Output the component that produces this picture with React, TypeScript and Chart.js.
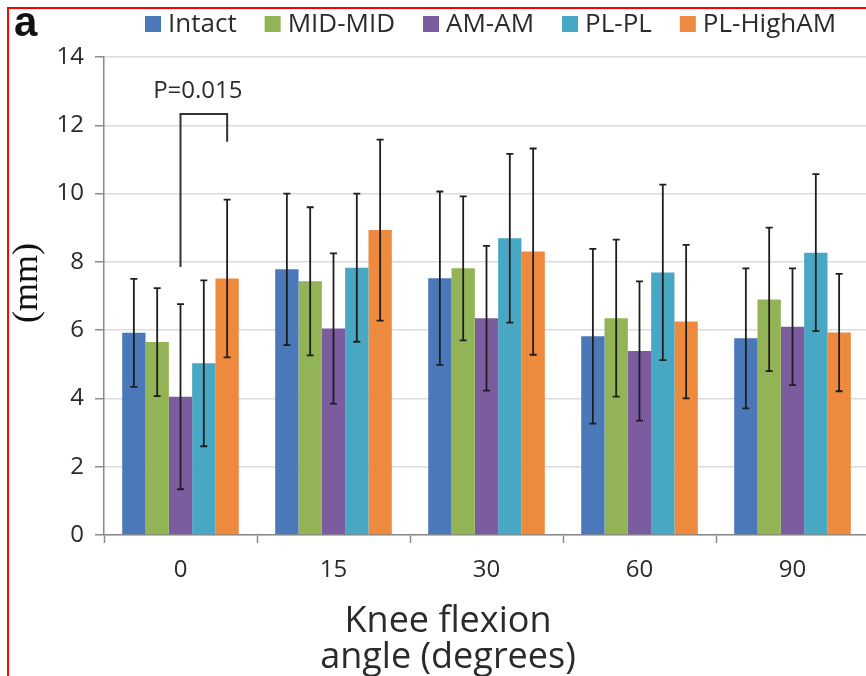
import React, { useEffect, useRef } from "react";
import { Chart, registerables } from "chart.js";

Chart.register(...registerables);

const categories = ["0", "15", "30", "60", "90"];
const seriesNames = ["Intact", "MID-MID", "AM-AM", "PL-PL", "PL-HighAM"];
const seriesColors = ["#4A78B8", "#92B456", "#7B5C9E", "#48A7C2", "#EE8A3D"];

const intactMean = [5.92, 7.78, 7.52, 5.82, 5.76];
const intactSD = [1.58, 2.22, 2.54, 2.56, 2.05];
const midMidMean = [5.65, 7.43, 7.81, 6.35, 6.9];
const midMidSD = [1.58, 2.17, 2.11, 2.3, 2.1];
const amAmMean = [4.05, 6.05, 6.35, 5.39, 6.1];
const amAmSD = [2.71, 2.2, 2.12, 2.04, 1.71];
const plPlMean = [5.03, 7.83, 8.69, 7.69, 8.27];
const plPlSD = [2.43, 2.17, 2.47, 2.57, 2.3];
const plHighMean = [7.51, 8.93, 8.3, 6.25, 5.93];
const plHighSD = [2.31, 2.65, 3.02, 2.25, 1.72];

const yTicks = [0, 2, 4, 6, 8, 10, 12, 14];
const yMin = 0;
const yMax = 14;

// significance bracket (data units)
const bracketLabel = "P=0.015";
const bracketLeftBottom = 7.85;
const bracketTop = 12.33;
const bracketRightBottom = 11.52;
const bracketLabelY = 13.0;

const panelLetter = "a";
const yTitle = "(mm)";
const xTitleLines = ["Knee flexion", "angle (degrees)"];

const means = [intactMean, midMidMean, amAmMean, plPlMean, plHighMean];
const sds = [intactSD, midMidSD, amAmSD, plPlSD, plHighSD];

const TEXT = "#2b2b2b";
const AXIS = "#8a8a8a";

const decorPlugin = {
  id: "decor",
  beforeDraw(chart: any) {
    const ctx = chart.ctx;
    ctx.save();
    ctx.fillStyle = "#ffffff";
    ctx.fillRect(0, 0, chart.width, chart.height);
    ctx.restore();
  },
  afterDatasetsDraw(chart: any) {
    const ctx = chart.ctx;
    const yScale = chart.scales.y;
    ctx.save();
    // error bars
    ctx.strokeStyle = "#1e1e1e";
    ctx.lineWidth = 1.8;
    chart.data.datasets.forEach((ds: any, di: number) => {
      const meta = chart.getDatasetMeta(di);
      meta.data.forEach((bar: any, i: number) => {
        const m = means[di][i];
        const s = sds[di][i];
        const yT = yScale.getPixelForValue(m + s);
        const yB = yScale.getPixelForValue(m - s);
        const x = bar.x;
        ctx.beginPath();
        ctx.moveTo(x, yT);
        ctx.lineTo(x, yB);
        ctx.moveTo(x - 3.5, yT);
        ctx.lineTo(x + 3.5, yT);
        ctx.moveTo(x - 3.5, yB);
        ctx.lineTo(x + 3.5, yB);
        ctx.stroke();
      });
    });
    // bracket
    const leftBar = chart.getDatasetMeta(2).data[0];
    const rightBar = chart.getDatasetMeta(4).data[0];
    ctx.strokeStyle = "#333";
    ctx.lineWidth = 2;
    ctx.beginPath();
    ctx.moveTo(leftBar.x, yScale.getPixelForValue(bracketLeftBottom));
    ctx.lineTo(leftBar.x, yScale.getPixelForValue(bracketTop));
    ctx.lineTo(rightBar.x, yScale.getPixelForValue(bracketTop));
    ctx.lineTo(rightBar.x, yScale.getPixelForValue(bracketRightBottom));
    ctx.stroke();
    ctx.fillStyle = TEXT;
    ctx.font = '24px "Open Sans"';
    ctx.textAlign = "center";
    ctx.textBaseline = "middle";
    ctx.fillText(bracketLabel, (leftBar.x + rightBar.x) / 2 - 6, yScale.getPixelForValue(bracketLabelY));
    ctx.restore();
  },
  afterDraw(chart: any) {
    const ctx = chart.ctx;
    ctx.save();
    // red frame
    ctx.fillStyle = "#ff0000";
    ctx.fillRect(7, 7, chart.width, 2);
    ctx.fillRect(7, 7, 2, chart.height);
    // panel letter
    ctx.fillStyle = "#111";
    ctx.font = 'bold 42px "Liberation Sans"';
    ctx.textAlign = "left";
    ctx.textBaseline = "alphabetic";
    ctx.fillText(panelLetter, 14, 36);
    // legend
    ctx.font = '26px "Open Sans"';
    let x = 145;
    seriesNames.forEach((name, i) => {
      ctx.fillStyle = seriesColors[i];
      ctx.fillRect(x, 16, 16, 16);
      x += 16 + 7;
      ctx.fillStyle = TEXT;
      ctx.fillText(name, x, 32);
      x += ctx.measureText(name).width + 28;
    });
    // y title
    ctx.save();
    ctx.translate(28, 283);
    ctx.rotate(-Math.PI / 2);
    ctx.font = '36px "Liberation Serif"';
    ctx.textAlign = "center";
    ctx.textBaseline = "middle";
    ctx.fillStyle = "#111";
    ctx.fillText(yTitle, 0, 0);
    ctx.restore();
    // x title
    ctx.font = '36px "Open Sans"';
    ctx.textAlign = "center";
    ctx.fillStyle = TEXT;
    ctx.fillText(xTitleLines[0], 448, 632);
    ctx.fillText(xTitleLines[1], 448, 668);
    ctx.restore();
  },
};

export default function App() {
  const ref = useRef<HTMLCanvasElement | null>(null);
  useEffect(() => {
    if (!ref.current) return;
    const chart = new Chart(ref.current, {
      type: "bar",
      data: {
        labels: categories,
        datasets: seriesNames.map((name, i) => ({
          label: name,
          data: means[i],
          backgroundColor: seriesColors[i],
          borderWidth: 0,
          barPercentage: 1,
          categoryPercentage: 0.762,
        })),
      },
      options: {
        responsive: false,
        animation: false,
        devicePixelRatio: 1,
        layout: { padding: { left: 0, right: 3, top: 57, bottom: 0 } },
        plugins: {
          legend: { display: false },
          tooltip: { enabled: false },
          title: { display: false },
        },
        scales: {
          x: {
            grid: {
              offset: true,
              drawOnChartArea: false,
              drawTicks: true,
              tickLength: 8,
              tickColor: AXIS,
              tickWidth: 1.5,
            },
            border: { color: AXIS, width: 1.5 },
            ticks: {
              color: TEXT,
              font: { family: '"Open Sans"', size: 24 },
              padding: 13,
              maxRotation: 0,
            },
            afterFit(scale: any) {
              scale.height = 141;
            },
          },
          y: {
            min: yMin,
            max: yMax,
            afterBuildTicks(scale: any) {
              scale.ticks = yTicks.map((v) => ({ value: v }));
            },
            grid: {
              color: "#dcdcdc",
              lineWidth: 1.5,
              tickLength: 9,
              tickColor: AXIS,
              tickWidth: 1.5,
            },
            border: { color: AXIS, width: 1.5 },
            ticks: {
              color: TEXT,
              font: { family: '"Open Sans"', size: 24 },
              padding: 11,
            },
            afterFit(scale: any) {
              scale.width = 104;
            },
          },
        },
      },
      plugins: [decorPlugin],
    });
    return () => chart.destroy();
  }, []);
  return (
    <div
      style={{
        position: "absolute",
        left: 0,
        top: 0,
        width: 866,
        height: 676,
        overflow: "hidden",
        background: "#fff",
      }}
    >
      <canvas ref={ref} width={872} height={676} style={{ display: "block", width: 872, height: 676 }} />
    </div>
  );
}
